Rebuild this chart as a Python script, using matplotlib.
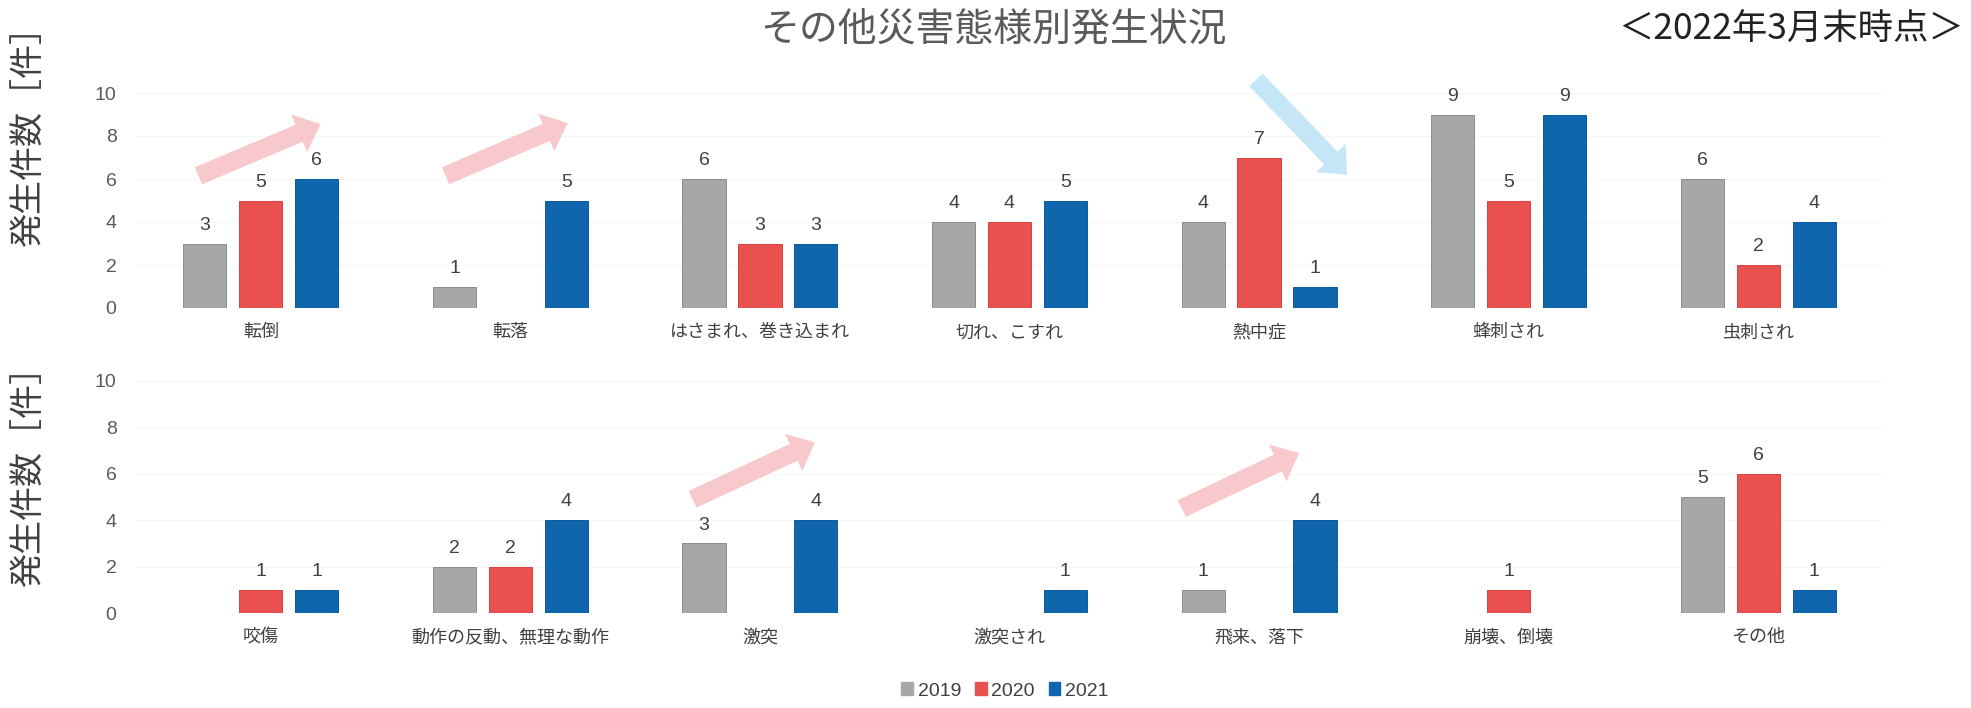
import matplotlib
matplotlib.use("Agg")
import matplotlib.pyplot as plt
import numpy as np

plt.rcParams['font.family'] = ['Noto Sans CJK JP', 'DejaVu Sans']
num_font = ['Liberation Sans', 'DejaVu Sans']

years = ["2019", "2020", "2021"]
colors = ["#a7a7a7", "#e9514f", "#0f66ad"]
edges = ["#8c8c8c", "#d8403e", "#0b5a99"]

top_cats = ["転倒", "転落", "はさまれ、巻き込まれ", "切れ、こすれ", "熱中症", "蜂刺され", "虫刺され"]
top_2019 = [3, 1, 6, 4, 4, 9, 6]
top_2020 = [5, 0, 3, 4, 7, 5, 2]
top_2021 = [6, 5, 3, 5, 1, 9, 4]

bot_cats = ["咬傷", "動作の反動、無理な動作", "激突", "激突され", "飛来、落下", "崩壊、倒壊", "その他"]
bot_2019 = [0, 2, 3, 0, 1, 0, 5]
bot_2020 = [1, 2, 0, 0, 0, 1, 6]
bot_2021 = [1, 4, 4, 1, 4, 0, 1]

yticks = [0, 2, 4, 6, 8, 10]

# trend arrows: (tail, head) in data units, colour
top_arrows = [((-0.26, 6.1), (0.25, 8.6), "#f7c3c8"),
              ((0.73, 6.1), (1.24, 8.65), "#f7c3c8"),
              ((3.98, 10.7), (4.36, 6.1), "#bfe4f7")]
bot_arrows = [((1.72, 4.85), (2.23, 7.4), "#f7c3c8"),
              ((3.68, 4.45), (4.17, 6.95), "#f7c3c8")]

W, H = 1971, 708
fig = plt.figure(figsize=(W / 100, H / 100), dpi=100)

ax_top = fig.add_axes([136 / W, 1 - 308 / H, (1883 - 136) / W, 215 / H])
ax_bot = fig.add_axes([136 / W, 1 - 613 / H, (1883 - 136) / W, 232 / H])

width = 0.173
pitch = 0.224


def draw(ax, cats, series, arrows):
    x = np.arange(len(cats))
    for i, vals in enumerate(series):
        bars = ax.bar(x + (i - 1) * pitch, vals, width, color=colors[i],
                      edgecolor=edges[i], linewidth=0.7, zorder=3)
        labels = [str(v) if v > 0 else "" for v in vals]
        ax.bar_label(bars, labels=labels, padding=7, fontsize=14,
                     color="#404040", family=num_font)
    ax.set_xlim(-0.5, len(cats) - 0.5)
    ax.set_ylim(0, 10)
    ax.set_yticks(yticks)
    ax.set_xticks(x)
    ax.set_xticklabels(cats, fontsize=13, color="#404040")
    ax.tick_params(axis="y", length=0, pad=14, labelsize=14, labelcolor="#595959")
    ax.tick_params(axis="x", length=0, pad=11)
    for lab in ax.get_yticklabels():
        lab.set_family(num_font)
    for s in ax.spines.values():
        s.set_visible(False)
    ax.grid(axis="y", color="#f6f6f6", linewidth=0.8, zorder=0)
    for tail, head, c in arrows:
        ax.annotate("", xy=head, xytext=tail, annotation_clip=False,
                    arrowprops=dict(arrowstyle="simple,head_length=1.2,head_width=2.1,tail_width=0.95",
                                    mutation_scale=14, color=c, alpha=0.9, lw=0),
                    zorder=4)


draw(ax_top, top_cats, [top_2019, top_2020, top_2021], top_arrows)
draw(ax_bot, bot_cats, [bot_2019, bot_2020, bot_2021], bot_arrows)

fig.text(993 / W, 1 - 30 / H, "その他災害態様別発生状況", ha="center", va="center",
         fontsize=28, color="#5a5a5a")
fig.text(1964 / W, 1 - 30 / H, "＜2022年3月末時点＞", ha="right", va="center",
         fontsize=25.5, color="#222222")

fig.text(28 / W, 1 - 128 / H, "発生件数［件］", rotation=90, ha="center", va="center",
         fontsize=24.5, color="#404040")
fig.text(28 / W, 1 - 468 / H, "発生件数［件］", rotation=90, ha="center", va="center",
         fontsize=24.5, color="#404040")

handles = [plt.Rectangle((0, 0), 1, 1, color=c) for c in colors]
leg = fig.legend(handles, years, loc="center", bbox_to_anchor=(1005 / W, 1 - 691 / H),
                 ncol=3, frameon=False, fontsize=14, handlelength=0.6, handleheight=0.6,
                 handletextpad=0.25, columnspacing=0.7)
for t in leg.get_texts():
    t.set_color("#404040")
    t.set_family(num_font)

fig.savefig("out.png", dpi=100)
